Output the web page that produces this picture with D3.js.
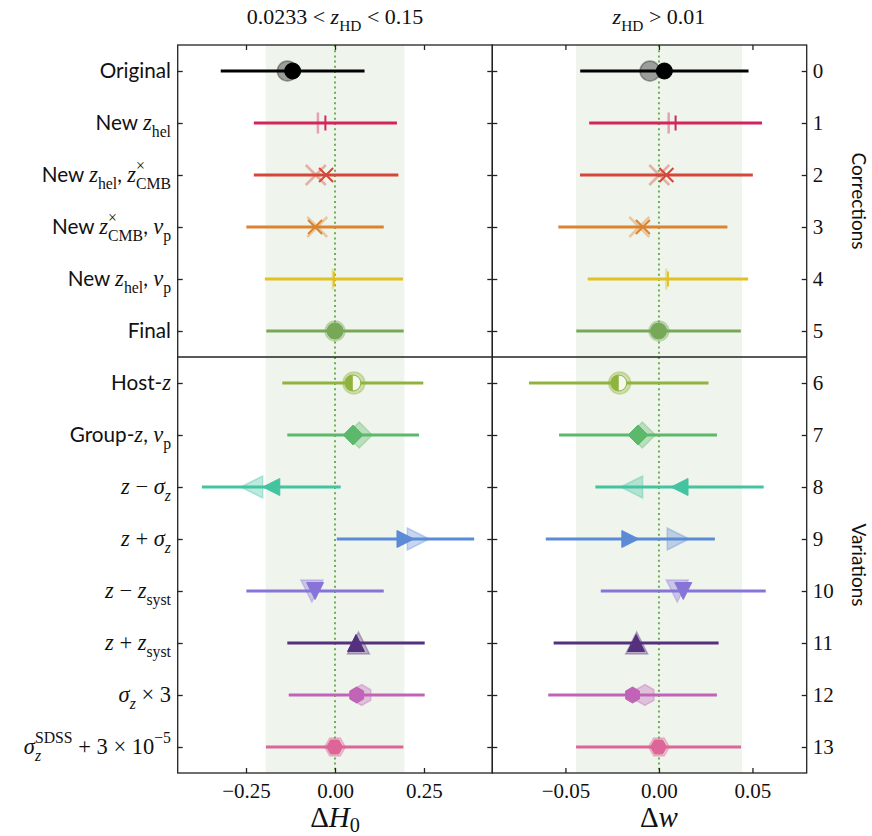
<!DOCTYPE html>
<html>
<head>
<meta charset="utf-8">
<script src="https://cdn.jsdelivr.net/npm/d3@7"></script>
<style>
    body { margin: 0; background: #fff; }
    svg { display: block; }
    text { white-space: pre; fill: #111; }
    .sans { font-family: Lato, "Open Sans", sans-serif; }
    .rm { font-family: "Liberation Serif", serif; }
    .it { font-family: "Liberation Serif", serif; font-style: italic; }
</style>
</head>
<body>
<div id="vis-container"></div>
<script>

    ////////////////////////////////////
    ////////////// Data ////////////////
    ////////////////////////////////////

    // row labels ($...$ = math, _{..} roman subscript, _x italic subscript)
    const rowLabels = [
        "Original",
        "New $z_{hel}$",
        "New $z_{hel}$, $z^×_{CMB}$",
        "New $z^×_{CMB}$, $v_{p}$",
        "New $z_{hel}$, $v_{p}$",
        "Final",
        "Host-$z$",
        "Group-$z$, $v_{p}$",
        "$z − σ_z$",
        "$z + σ_z$",
        "$z − z_{syst}$",
        "$z + z_{syst}$",
        "$σ_z × 3$",
        "$σ_z^{SDSS} + 3 × 10^{−5}$"
    ]
    const rowTicks = d3.range(14)
    const groupNames = ["Corrections", "Variations"]
    const panelTitles = ["$0.0233 < z_{HD} < 0.15$", "$z_{HD} > 0.01$"]
    const axisTitles = ["$ΔH_0$", "$Δw$"]

    // Delta H0 (left panel)
    const h0Value = [-0.119, -0.027, -0.025, -0.056, -0.003, 0.000, 0.050, 0.051, -0.179, 0.198, -0.056, 0.059, 0.061, -0.001]
    const h0Error = [0.202, 0.201, 0.203, 0.193, 0.194, 0.193, 0.198, 0.185, 0.195, 0.193, 0.193, 0.193, 0.191, 0.193]
    const h0Previous = [-0.134, -0.048, -0.054, -0.050, -0.006, 0.000, 0.053, 0.068, -0.234, 0.234, -0.065, 0.066, 0.075, 0.000]
    const h0Band = [-0.195, 0.195]
    const h0Ticks = [-0.25, 0, 0.25]

    // Delta w (right panel)
    const wValue = [0.0029, 0.0089, 0.0040, -0.0086, 0.0048, -0.0002, -0.0215, -0.0112, 0.0110, -0.0153, 0.0130, -0.0122, -0.0141, -0.0002]
    const wError = [0.0450, 0.0462, 0.0462, 0.0452, 0.0429, 0.0440, 0.0480, 0.0422, 0.0450, 0.0452, 0.0441, 0.0441, 0.0451, 0.0441]
    const wPrevious = [-0.0048, 0.0052, 0.0002, -0.0105, 0.0039, 0.0000, -0.0210, -0.0089, -0.0146, 0.0103, 0.0098, -0.0119, -0.0075, 0.0000]
    const wBand = [-0.0444, 0.0444]
    const wTicks = [-0.05, 0, 0.05]

    const shapes = ['o', '|', 'x', 'x', '|', 'o', 'half', 'D', '<', '>', 'v', '^', 'h', 'H']
    const colors = ['#000000', '#d4245b', '#d5473a', '#db8430', '#e1c122', '#77a858', '#8fb33c',
                    '#5cb86b', '#42c4a1', '#5b8ad6', '#8874d9', '#55307f', '#c164b7', '#dd6597']

    ////////////////////////////////////
    ///////////// SVG Setup ////////////
    ////////////////////////////////////

    const svgWidth = 872
    const svgHeight = 836
    const plotTop = 45, plotBottom = 773
    const split = 357

    const svg = d3.select('#vis-container')
        .append('svg')
        .attr('width', svgWidth)
        .attr('height', svgHeight)

    ////////////////////////////////////
    /////////////// Scales /////////////
    ////////////////////////////////////

    const yScale = d3.scaleLinear().domain([-0.5, 13.5]).range([plotTop, plotBottom])
    const xH0 = d3.scaleLinear().domain([-0.4419, 0.4419]).range([177.7, 492.3])
    const xW = d3.scaleLinear().domain([-0.0891, 0.0790]).range([492.3, 806.7])

    ////////////////////////////////////
    //////////// Text helper ///////////
    ////////////////////////////////////

    function parseLabel(str) {
        let parts = []
        str.split('$').forEach((seg, k) => {
            if (k % 2 == 0) {
                if (seg) parts.push({ t: seg, cls: 'sans', shift: '' })
                return
            }
            let i = 0
            while (i < seg.length) {
                const c = seg[i]
                if (c == '_' || c == '^') {
                    const shift = c == '_' ? 'sub' : 'sup'
                    i++
                    if (seg[i] == '{') {
                        const j = seg.indexOf('}', i)
                        parts.push({ t: seg.slice(i + 1, j), cls: 'rm', shift })
                        i = j + 1
                    } else {
                        parts.push({ t: seg[i], cls: /[A-Za-zσ]/.test(seg[i]) ? 'it' : 'rm', shift })
                        i++
                    }
                } else {
                    parts.push({ t: c, cls: /[A-Za-zσ]/.test(c) ? 'it' : 'rm', shift: '' })
                    i++
                }
            }
        })
        // merge neighbours of same kind
        let merged = []
        parts.forEach(p => {
            const last = merged[merged.length - 1]
            if (last && last.cls == p.cls && last.shift == p.shift && !p.shift) last.t += p.t
            else merged.push({ ...p })
        })
        return merged
    }

    function richText(sel, str, size, subDrop = 0.30) {
        let cur = 0, prev = null, prevNode = null
        parseLabel(str).forEach(p => {
            const off = p.shift == 'sub' ? size * subDrop : p.shift == 'sup' ? -size * 0.48 : 0
            const fs = p.shift ? size * 0.7 : (p.cls == 'sans' ? size * 0.92 : size)
            const ts = sel.append('tspan')
                .attr('class', p.cls)
                .attr('font-size', fs)
                .attr('dy', off - cur)
                .text(p.t)
            if (prev && prev.shift && p.shift && prev.shift != p.shift) {
                ts.attr('dx', -prevNode.getComputedTextLength())
            }
            cur = off
            prev = p
            prevNode = ts.node()
        })
    }

    ////////////////////////////////////
    ////////////// Markers /////////////
    ////////////////////////////////////

    function poly(pts) {
        return 'M' + pts.map(p => p[0].toFixed(2) + ',' + p[1].toFixed(2)).join('L') + 'Z'
    }

    function markerPath(shape, r) {
        switch (shape) {
            case 'o':
            case 'half': return d3.symbol(d3.symbolCircle, Math.PI * r * r)()
            case 'D': return poly([[0, -r], [r, 0], [0, r], [-r, 0]])
            case '^': return poly([[0, -r], [r, r], [-r, r]])
            case 'v': return poly([[0, r], [r, -r], [-r, -r]])
            case '<': return poly([[-r, 0], [r, -r], [r, r]])
            case '>': return poly([[r, 0], [-r, -r], [-r, r]])
            case 'h': return poly(d3.range(6).map(k => [r * Math.cos((-90 + 60 * k) * Math.PI / 180), r * Math.sin((-90 + 60 * k) * Math.PI / 180)]))
            case 'H': return poly(d3.range(6).map(k => [r * Math.cos(60 * k * Math.PI / 180), r * Math.sin(60 * k * Math.PI / 180)]))
            case 'x': return `M${-r},${-r}L${r},${r}M${-r},${r}L${r},${-r}`
            case '|': return `M0,${-r}L0,${r}`
        }
    }

    const mainSize = { o: 8, half: 8, D: 10, '^': 8.5, v: 8.5, '<': 8.5, '>': 8.5, h: 8, H: 8, x: 7, '|': 7.5 }
    const prevSize = { o: 10, half: 11, D: 13, '^': 11, v: 11, '<': 11, '>': 11, h: 10.5, H: 10.5, x: 10, '|': 10.5 }
    const lineOnly = s => s == 'x' || s == '|'

    ////////////////////////////////////
    ////////////// Panels //////////////
    ////////////////////////////////////

    function drawPanel(x, values, errors, previous, band) {
        const g = svg.append('g')
        const rows = values.map((v, i) => ({ i, v, e: errors[i], p: previous[i], shape: shapes[i], color: colors[i] }))

        // shaded band
        g.append('rect')
            .attr('x', x(band[0]))
            .attr('width', x(band[1]) - x(band[0]))
            .attr('y', plotTop)
            .attr('height', plotBottom - plotTop)
            .attr('fill', '#eff5ec')

        // zero line
        g.append('line')
            .attr('x1', x(0)).attr('x2', x(0))
            .attr('y1', plotTop).attr('y2', plotBottom)
            .attr('stroke', '#6fae52')
            .attr('stroke-width', 2)
            .attr('stroke-dasharray', '2,3.2')

        // previous (faded) markers
        g.selectAll('.prev')
            .data(rows)
            .join('path')
            .attr('class', 'prev')
            .attr('transform', d => `translate(${x(d.p)},${yScale(d.i)})`)
            .attr('d', d => markerPath(d.shape, prevSize[d.shape]))
            .attr('fill', d => lineOnly(d.shape) ? 'none' : d.color)
            .attr('fill-opacity', 0.35)
            .attr('stroke', d => d.color)
            .attr('stroke-opacity', d => lineOnly(d.shape) ? 0.4 : 0.35)
            .attr('stroke-width', d => lineOnly(d.shape) ? 2.5 : 1.5)

        // error bars
        g.selectAll('.err')
            .data(rows)
            .join('line')
            .attr('class', 'err')
            .attr('x1', d => x(d.v - d.e))
            .attr('x2', d => x(d.v + d.e))
            .attr('y1', d => yScale(d.i))
            .attr('y2', d => yScale(d.i))
            .attr('stroke', d => d.color)
            .attr('stroke-width', 3)

        // main markers
        g.selectAll('.main')
            .data(rows)
            .join('path')
            .attr('class', 'main')
            .attr('transform', d => `translate(${x(d.v)},${yScale(d.i)})`)
            .attr('d', d => markerPath(d.shape, mainSize[d.shape]))
            .attr('fill', d => lineOnly(d.shape) ? 'none' : d.shape == 'half' ? '#f4f8ee' : d.color)
            .attr('stroke', d => d.color)
            .attr('stroke-width', d => lineOnly(d.shape) ? 2 : 1)

        // left half of the half-filled circle
        g.selectAll('.halffill')
            .data(rows.filter(d => d.shape == 'half'))
            .join('path')
            .attr('class', 'halffill')
            .attr('transform', d => `translate(${x(d.v)},${yScale(d.i)})`)
            .attr('d', d => { const r = mainSize.half; return `M0,${-r}A${r},${r} 0 0 0 0,${r}Z` })
            .attr('fill', d => d.color)

        return g
    }

    drawPanel(xH0, h0Value, h0Error, h0Previous, h0Band)
    drawPanel(xW, wValue, wError, wPrevious, wBand)

    ////////////////////////////////////
    ////////////// Axis ////////////////
    ////////////////////////////////////

    function styleAxis(g) {
        g.select('.domain').remove()
        g.selectAll('line').attr('stroke', '#222').attr('stroke-width', 1.3)
        g.selectAll('text')
            .attr('font-family', '"Liberation Serif", serif')
            .attr('font-size', 21)
            .attr('fill', '#111')
    }

    const fmt = d3.format('.2f')

    // x axes: bottom with labels, top ticks only
    ;[[xH0, h0Ticks], [xW, wTicks]].forEach(([x, ticks]) => {
        svg.append('g')
            .attr('transform', `translate(0,${plotBottom})`)
            .call(d3.axisBottom(x).tickValues(ticks).tickFormat(fmt).tickSize(-5).tickPadding(10))
            .call(styleAxis)
        svg.append('g')
            .attr('transform', `translate(0,${plotTop})`)
            .call(d3.axisTop(x).tickValues(ticks).tickFormat('').tickSize(-5))
            .call(styleAxis)
    })

    // y axes: inward ticks on every side, numbers only on the far right
    ;[xH0.range()[0], xW.range()[0]].forEach(px => {
        svg.append('g')
            .attr('transform', `translate(${px},0)`)
            .call(d3.axisLeft(yScale).tickValues(rowTicks).tickFormat('').tickSize(-5))
            .call(styleAxis)
    })
    svg.append('g')
        .attr('transform', `translate(${xH0.range()[1]},0)`)
        .call(d3.axisRight(yScale).tickValues(rowTicks).tickFormat('').tickSize(-5))
        .call(styleAxis)
    svg.append('g')
        .attr('transform', `translate(${xW.range()[1]},0)`)
        .call(d3.axisRight(yScale).tickValues(rowTicks).tickFormat(d => d).tickSize(-5).tickPadding(6))
        .call(styleAxis)

    // frames and the split line
    ;[xH0, xW].forEach(x => {
        svg.append('rect')
            .attr('x', x.range()[0])
            .attr('y', plotTop)
            .attr('width', x.range()[1] - x.range()[0])
            .attr('height', plotBottom - plotTop)
            .attr('fill', 'none')
            .attr('stroke', '#222')
            .attr('stroke-width', 1.3)
    })
    svg.append('line')
        .attr('x1', xH0.range()[0]).attr('x2', xW.range()[1])
        .attr('y1', split).attr('y2', split)
        .attr('stroke', '#222')
        .attr('stroke-width', 1.3)

    ////////////////////////////////////
    ////////////// Labels //////////////
    ////////////////////////////////////

    rowLabels.forEach((lab, i) => {
        const t = svg.append('text')
            .attr('x', 171)
            .attr('y', yScale(i) + 7)
            .attr('text-anchor', 'end')
        richText(t, lab, 22.5)
    })

    ;[xH0, xW].forEach((x, k) => {
        const t = svg.append('text')
            .attr('x', x(0))
            .attr('y', 24)
            .attr('text-anchor', 'middle')
        richText(t, panelTitles[k], 22)

        const a = svg.append('text')
            .attr('x', x(0))
            .attr('y', 827)
            .attr('text-anchor', 'middle')
        richText(a, axisTitles[k], 29, 0.16)
    })

    // group names on the right
    ;[[0, 5], [6, 13]].forEach(([a, b], k) => {
        const cy = (yScale(a) + yScale(b)) / 2
        svg.append('text')
            .attr('transform', `translate(852,${cy}) rotate(90)`)
            .attr('text-anchor', 'middle')
            .attr('class', 'sans')
            .attr('font-size', 19)
            .text(groupNames[k])
    })

</script>
</body>
</html>
